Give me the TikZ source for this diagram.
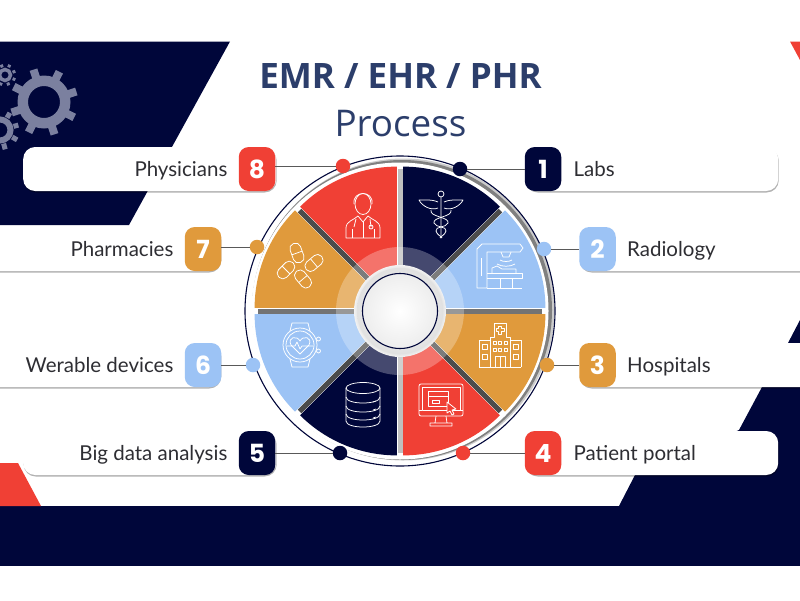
\documentclass[tikz,border=0pt]{standalone}
\usepackage{fontspec}
\setmainfont{Lato}
\newfontfamily\titlefont{Open Sans}
\newfontfamily\numberfont{Poppins}
\usetikzlibrary{positioning, shadows}
\definecolor{navy}{HTML}{00063A}
\definecolor{redfill}{HTML}{F04035}
\definecolor{orangefill}{HTML}{E09A3C}
\definecolor{skyfill}{HTML}{9CC3F5}
\definecolor{titleblue}{HTML}{2C3E6B}
\definecolor{gearfill}{HTML}{7B809F}
\definecolor{textgrey}{HTML}{2E2E33}

\begin{document}
\begin{tikzpicture}[
    x=1pt, y=-1pt,
    bar/.style={rectangle, fill=white, rounded corners=12pt, minimum height=44pt, inner sep=0pt, drop shadow={shadow xshift=0.5pt, shadow yshift=-1.5pt, opacity=0.3, fill=black}},
    badge/.style={rectangle, rounded corners=10pt, minimum width=36.5pt, minimum height=44pt, inner sep=0pt, text=white, font=\numberfont\fontsize{25}{25}\selectfont\bfseries},
    tag/.style={text=textgrey, inner sep=0pt, text height=16pt, text depth=2pt, font=\fontsize{20.5}{23}\selectfont},
    dot/.style={circle, minimum size=14.5pt, inner sep=0pt},
    link/.style={draw=black!65, line width=1pt},
    icon/.style={draw=white, line width=0.75pt, line join=round},
    caduceus/.pic={
        \draw[icon] (0,-18) -- (0,23) (0,-21) circle (3);
        \draw[icon] (-3,-13) .. controls (-10,-16) and (-17,-15) .. (-22,-15) .. controls (-19,-9) and (-10,-4) .. (-3,-7);
        \draw[icon] (3,-13) .. controls (10,-16) and (17,-15) .. (22,-15) .. controls (19,-9) and (10,-4) .. (3,-7);
        \draw[icon] (-10,-5) .. controls (-12,2) and (9,2) .. (7,8) .. controls (5,13) and (-6,11) .. (-5,16) .. controls (-4,20) and (0,21) .. (1,23);
        \draw[icon] (10,-5) .. controls (12,2) and (-9,2) .. (-7,8) .. controls (-5,13) and (6,11) .. (5,16) .. controls (4,20) and (0,21) .. (-1,23);
    },
    doctor/.pic={
        \draw[icon] (0,-11) ellipse (8 and 10.5);
        \draw[icon] (-9,-11) .. controls (-11,-25) and (11,-25) .. (9,-11);
        \draw[icon] (-17,23) -- (-17,13) .. controls (-17,6) and (-9,5) .. (-5,1) -- (0,7) -- (5,1) .. controls (9,5) and (17,6) .. (17,13) -- (17,23) -- cycle;
        \draw[icon] (0,7) -- (0,23) (-11,23) -- (-11,14) (11,23) -- (11,14);
        \draw[icon] (-7,4) -- (-9,12) (7,4) -- (8,12) (8,12) circle (2);
    },
    scanner/.pic={
        \draw[icon] (-23,22) -- (-23,-17) -- (-18,-22) -- (20,-22) -- (23,-18) -- (20,-14) -- (-13,-14) -- (-13,22) -- cycle;
        \draw[icon] (1,-14) -- (3,-9) -- (9,-9) -- (11,-14);
        \draw[icon] (0,-6) .. controls (3,-4) and (9,-4) .. (12,-6) (-3,-2) .. controls (2,1) and (10,1) .. (15,-2);
        \draw[icon] (-13,7) -- (22,7) -- (22,12) -- (-13,12);
        \draw[icon] (-8,7) -- (-8,2) -- (-3,0) -- (2,3) -- (16,3) -- (16,7);
        \draw[icon] (0,12) -- (0,22) (12,12) -- (12,22) (-13,22) -- (22,22);
        \draw[icon] (-19,-8) -- (-19,10);
    },
    pills/.pic={
        \draw[icon, shift={(-3,-13)}, rotate=20, rounded corners=5pt] (-5.5,-10) rectangle (5.5,10) (-5.5,0) -- (5.5,0);
        \draw[icon, shift={(-14,4)}, rotate=-45, rounded corners=5pt] (-5.5,-10) rectangle (5.5,10) (-5.5,0) -- (5.5,0);
        \draw[icon, shift={(14,-3)}, rotate=-50, rounded corners=5pt] (-5.5,-10) rectangle (5.5,10) (-5.5,0) -- (5.5,0);
        \draw[icon, shift={(3,13)}, rotate=40, rounded corners=5pt] (-5.5,-10) rectangle (5.5,10) (-5.5,0) -- (5.5,0);
    },
    hospital/.pic={
        \draw[icon] (-10,22) -- (-10,-8) -- (-6,-8) -- (-6,-22) -- (6,-22) -- (6,-8) -- (10,-8) -- (10,22);
        \draw[icon] (-21,22) -- (-21,-5) -- (-10,-5) (21,22) -- (21,-5) -- (10,-5) (-21,22) -- (21,22);
        \draw[icon] (-1.5,-19) -- (1.5,-19) -- (1.5,-16.5) -- (4,-16.5) -- (4,-13.5) -- (1.5,-13.5) -- (1.5,-11) -- (-1.5,-11) -- (-1.5,-13.5) -- (-4,-13.5) -- (-4,-16.5) -- (-1.5,-16.5) -- cycle;
        \draw[icon] (-18,-1) rectangle (-13,4) (-18,9) rectangle (-13,14) (13,-1) rectangle (18,4) (13,9) rectangle (18,14);
        \draw[icon] (-7,-4) rectangle (-4,-1) (-1.5,-4) rectangle (1.5,-1) (4,-4) rectangle (7,-1) (-7,3) rectangle (-4,6) (-1.5,3) rectangle (1.5,6) (4,3) rectangle (7,6);
        \draw[icon] (-5,22) -- (-5,11) -- (5,11) -- (5,22) (0,11) -- (0,22);
    },
    screen/.pic={
        \draw[icon, rounded corners=2pt] (-22,-21) rectangle (22,11);
        \draw[icon] (-19,-18) rectangle (19,5) (-22,5) -- (-19,5) (19,5) -- (22,5);
        \draw[icon] (-5,11) -- (-6,18) -- (6,18) -- (5,11) (-11,21) -- (-11,18) -- (11,18) -- (11,21) -- cycle;
        \draw[icon] (-13,-14) rectangle (7,1) (-13,-9) -- (7,-9) (-9,-5) rectangle (-2,-2);
        \draw[icon, fill=redfill] (6,-3) -- (15,4) -- (11,5) -- (13,9) -- (11,10) -- (9,6) -- (6,8) -- cycle;
    },
    database/.pic={
        \draw[icon] (0,-17) ellipse (17 and 5.5);
        \draw[icon] (-17,-17) -- (-17,16) .. controls (-17,24) and (17,24) .. (17,16) -- (17,-17);
        \draw[icon] (-17,-8) .. controls (-17,0) and (17,0) .. (17,-8);
        \draw[icon] (-17,1) .. controls (-17,9) and (17,9) .. (17,1);
        \draw[icon] (-17,9) .. controls (-17,17) and (17,17) .. (17,9);
        \draw[icon] (10,-3) -- (13,-4) (10,5) -- (13,4) (10,13) -- (13,12);
    },
    watch/.pic={
        \draw[icon] (0,0) circle (17) (0,0) circle (14);
        \draw[icon] (-10,-14) -- (-8,-22) -- (8,-22) -- (10,-14) (-10,14) -- (-8,22) -- (8,22) -- (10,14);
        \draw[icon] (18.5,-6) circle (2) (18.5,6) circle (2);
        \draw[icon] (0,9) -- (-9,0) .. controls (-13,-8) and (-3,-10) .. (0,-4) .. controls (3,-10) and (13,-8) .. (9,0) -- cycle;
        \draw[icon] (-13,1) -- (-5,1) -- (-3,-3) -- (0,4) -- (2,1) -- (13,1);
    },
]
    \clip (0,0) rectangle (800,600);
    \fill[white] (0,0) rectangle (800,600);

    % background
    \fill[navy] (0,41.5) -- (230,41.5) -- (129,225) -- (0,225) -- cycle;
    \fill[navy] (0,506) rectangle (800,566);
    \fill[navy] (762,387) -- (800,387) -- (800,506) -- (619,506) -- (635,475) -- (739,430) -- cycle;
    \fill[navy] (800,320) -- (788,343) -- (800,343) -- cycle;
    \fill[redfill] (790,41.5) -- (800,41.5) -- (800,60) -- cycle;
    \fill[redfill] (0,463) -- (18,463) -- (41,506) -- (0,506) -- cycle;

    % gears
    \fill[gearfill, even odd rule] (44,102) circle (16) (44,102) circle (26.5);
    \draw[gearfill, line width=8pt, rotate around={18:(44,102)}] (44,68) -- (44,78) (44,126) -- (44,136) (10,102) -- (20,102) (68,102) -- (78,102) (20,78) -- (27,85) (61,119) -- (68,126) (68,78) -- (61,85) (27,119) -- (20,126);
    \draw[gearfill, line width=3.5pt] (5,75) circle (5.5);
    \draw[gearfill, line width=3pt, rotate around={20:(5,75)}] (5,64) -- (5,67) (5,83) -- (5,86) (-6,75) -- (-3,75) (13,75) -- (16,75) (13,67) -- (11,69) (13,83) -- (11,81) (-3,83) -- (-1,81) (-3,67) -- (-1,69);
    \draw[gearfill, line width=6pt] (0,130) circle (10.5);
    \draw[gearfill, line width=5pt, rotate around={15:(0,130)}] (0,110) -- (0,116) (0,144) -- (0,150) (14,130) -- (19,130) (10,120) -- (14,116) (10,140) -- (14,144);

    \node[font=\titlefont\fontsize{35}{35}\selectfont\bfseries, text=titleblue, inner sep=0pt] (heading) at (400.5,76) {EMR / EHR / PHR};
    \node[font=\titlefont\fontsize{36.8}{37}\selectfont, text=titleblue, inner sep=0pt] (subheading) at (400.5,124) {Process};

    % wheel
    \begin{scope}[shift={(400,311)}, yscale=-1]
        \fill[white] (0,0) circle (155);
        \fill[black!20] (3.5,1.5) circle (151);
        \fill[black!50] (2,1) circle (150);
        \fill[white] (0,0) circle (148.5);
        \draw[navy, line width=1.1pt] (0,0) circle (155);
        \draw[black!25, line width=5pt] (90:142) -- (-90:142);
        \draw[black!55, line width=5pt] (0:142) -- (180:142);
        \draw[black!70, line width=5pt] (45:142) -- (225:142) (135:142) -- (-45:142);
        \fill[navy, shift={(67.5:8)}] (0,0) -- (90:137) arc[start angle=90, end angle=45, radius=137] -- cycle;
        \fill[skyfill, shift={(22.5:8)}] (0,0) -- (45:138) arc[start angle=45, end angle=0, radius=138] -- cycle;
        \fill[orangefill, shift={(-22.5:8)}] (0,0) -- (0:138) arc[start angle=0, end angle=-45, radius=138] -- cycle;
        \fill[redfill, shift={(-67.5:8)}] (0,0) -- (-45:137) arc[start angle=-45, end angle=-90, radius=137] -- cycle;
        \fill[navy, shift={(-112.5:8)}] (0,0) -- (-90:137) arc[start angle=-90, end angle=-135, radius=137] -- cycle;
        \fill[skyfill, shift={(-157.5:8)}] (0,0) -- (-135:138) arc[start angle=-135, end angle=-180, radius=138] -- cycle;
        \fill[orangefill, shift={(157.5:8)}] (0,0) -- (180:138) arc[start angle=180, end angle=135, radius=138] -- cycle;
        \fill[redfill, shift={(112.5:8)}] (0,0) -- (135:137) arc[start angle=135, end angle=90, radius=137] -- cycle;
        \fill[white, opacity=0.27] (0,0) circle (64);
        \shade[inner color=black!85, outer color=black!5] (0,0) circle (46);
        \shade[inner color=white, outer color=black!12] (0,0) circle (43);
        \draw[navy, line width=1.1pt, inner color=white, outer color=black!7, shade] (0,0) circle (37.5);
    \end{scope}

    % icons
    \pic at (441,215) {caduceus};
    \pic at (363,215) {doctor};
    \pic at (500,266) {scanner};
    \pic at (300,266) {pills};
    \pic at (500,345) {hospital};
    \pic at (441,405) {screen};
    \pic at (363,405) {database};
    \pic at (300,345) {watch};

    % bars
    \node[bar, minimum width=253pt, anchor=west] (physiciansbar) at (23,169) {};
    \node[bar, minimum width=253pt, anchor=west] (labsbar) at (525,169) {};
    \node[bar, minimum width=260pt, anchor=east] (pharmaciesbar) at (221,249) {};
    \node[bar, minimum width=260pt, anchor=west] (radiologybar) at (579,249) {};
    \node[bar, minimum width=260pt, anchor=east] (wearablebar) at (221,365) {};
    \node[bar, minimum width=260pt, anchor=west] (hospitalsbar) at (579,365) {};
    \node[bar, minimum width=253pt, anchor=west] (bigdatabar) at (23,453) {};
    \node[bar, minimum width=253pt, anchor=west] (portalbar) at (525,453) {};

    % badges
    \node[badge, fill=navy] (labsnum) at (543,169) {1};
    \node[badge, fill=skyfill] (radiologynum) at (597.5,249) {2};
    \node[badge, fill=orangefill] (hospitalsnum) at (597.5,365) {3};
    \node[badge, fill=redfill] (portalnum) at (543,453) {4};
    \node[badge, fill=navy] (bigdatanum) at (257,453) {5};
    \node[badge, fill=skyfill] (wearablenum) at (203,365) {6};
    \node[badge, fill=orangefill] (pharmaciesnum) at (203,249) {7};
    \node[badge, fill=redfill] (physiciansnum) at (257,169) {8};

    % labels
    \node[tag, right=12pt of labsnum] (labstext) {Labs};
    \node[tag, right=11pt of radiologynum] (radiologytext) {Radiology};
    \node[tag, right=11pt of hospitalsnum] (hospitalstext) {Hospitals};
    \node[tag, right=12pt of portalnum] (portaltext) {Patient portal};
    \node[tag, left=11pt of bigdatanum] (bigdatatext) {Big data analysis};
    \node[tag, left=11pt of wearablenum] (wearabletext) {Werable devices};
    \node[tag, left=11pt of pharmaciesnum] (pharmaciestext) {Pharmacies};
    \node[tag, left=11pt of physiciansnum] (physicianstext) {Physicians};

    % dots
    \node[dot, fill=navy] (labsdot) at (460,169) {};
    \node[dot, fill=skyfill] (radiologydot) at (544,249) {};
    \node[dot, fill=orangefill] (hospitalsdot) at (547,365) {};
    \node[dot, fill=redfill] (portaldot) at (463,453) {};
    \node[dot, fill=navy] (bigdatadot) at (340,453) {};
    \node[dot, fill=skyfill] (wearabledot) at (253,365) {};
    \node[dot, fill=orangefill] (pharmaciesdot) at (257,247) {};
    \node[dot, fill=redfill] (physiciansdot) at (343,166) {};

    \draw[link] (labsnum) -- (labsdot);
    \draw[link] (radiologynum) -- (radiologydot);
    \draw[link] (hospitalsnum) -- (hospitalsdot);
    \draw[link] (portalnum) -- (portaldot);
    \draw[link] (bigdatanum) -- (bigdatadot);
    \draw[link] (wearablenum) -- (wearabledot);
    \draw[link] (pharmaciesdot) -- (pharmaciesdot -| pharmaciesnum.east);
    \draw[link] (physiciansdot) -- (physiciansdot -| physiciansnum.east);
\end{tikzpicture}
\end{document}
